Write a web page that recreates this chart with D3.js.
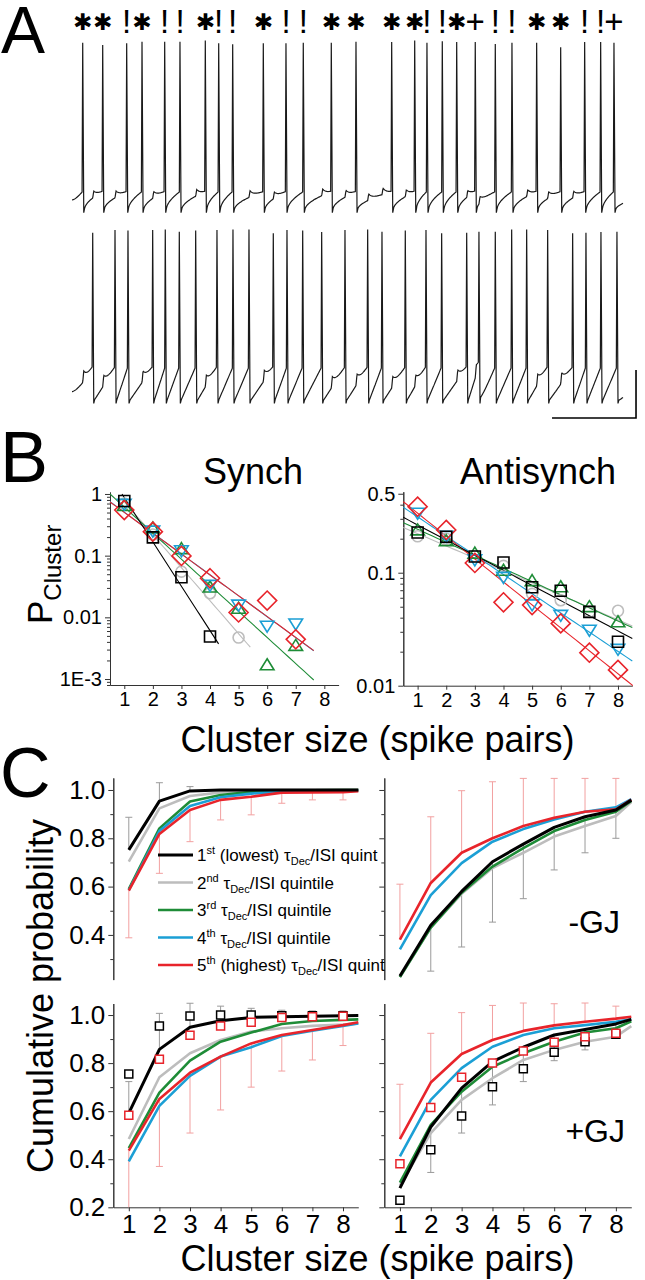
<!DOCTYPE html>
<html><head><meta charset="utf-8">
<script src="https://cdn.jsdelivr.net/npm/d3@7"></script>
<style>
body{margin:0;background:#fff}
svg{display:block}
text{font-family:"Liberation Sans",Arial,Helvetica,sans-serif;white-space:pre}
</style></head>
<body><svg id="fig" width="645" height="1280"></svg>
<script>
// ================= DATA =================
// Panel A: spike times (ms) and peak voltages (mV) of the two coupled cells
const cell1SpikeTimes = [25.5,73.1,130.2,166.7,220.7,257.1,317.4,349.3,382.6,455.5,509.5,550.7,617.4,676.2,761.2,816.0,845.2,881.7,916.0,960.2,1007.9,1047.6,1106.4,1163.6,1220.7,1258.8,1290.5];
const cell1SpikePeaks = [7.6,6.7,7.4,8.0,8.0,8.0,8.5,7.4,7.0,7.4,7.4,7.6,7.6,8.0,7.9,8.5,7.6,8.2,7.9,7.9,7.1,7.6,7.6,5.7,7.9,7.9,7.6];
const cell1SpikeMarks = ["*","*","!","*","!","!","*","!","!","*","!","!","*","*","*","*","!","!","*","+","!","!","*","*","!","!","+"];
const cell2SpikeTimes = [49.3,102.4,133.3,192.1,222.1,255.5,294.5,345.2,383.3,421.4,479.3,511.9,549.3,594.5,650.0,704.0,738.1,793.6,842.9,880.2,939.8,969.0,1007.9,1046.9,1082.6,1132.6,1192.1,1223.8,1259.5,1297.6];
const cell2SpikePeaks = [7.6,8.8,8.5,8.8,9.0,8.0,8.5,8.8,9.0,9.0,7.4,8.8,8.5,7.9,8.8,9.0,8.0,8.5,8.8,7.4,7.6,8.0,8.0,9.0,9.0,8.8,7.4,7.6,7.9,8.0];
// membrane levels (mV): [start, pre-spike, trough, spikelet amplitude]
const cell1Levels = [-57.9,-54.6,-62.0,2.6];
const cell2Levels = [-58.6,-48.8,-62.3,4.2];

// Panel B: cluster probability per quintile (index = cluster size - 1)
const clusterSizes = [1,2,3,4,5,6,7,8];
const synchQ1 = [0.77,0.198,0.0447,0.0049];
const synchQ2 = [0.70,0.22,0.055,0.0246,0.0047];
const synchQ3 = [0.65,0.28,0.13,0.031,0.014,0.0017,0.0035];
const synchQ4 = [0.68,0.25,0.12,0.033,0.0158,0.0072,0.0078];
const synchQ5 = [0.55,0.245,0.099,0.043,0.012,0.0187,0.0044];
const antiQ1 = [0.227,0.208,0.139,0.123,0.0743,0.0693,0.045,0.0245];
const antiQ2 = [0.21,0.20,0.14,0.115,0.065,0.057,0.045,0.046];
const antiQ3 = [0.239,0.192,0.149,0.105,0.085,0.075,0.050,0.0368];
const antiQ4 = [0.336,0.21,0.13,0.091,0.052,0.042,0.031,0.021];
const antiQ5 = [0.384,0.239,0.122,0.0547,0.0517,0.0356,0.0196,0.0138];
// exponential fits: [log10 intercept, log10 slope, first size, last size]
const synchFitQ1 = [0.661,-0.719,0.92,4.3];
const synchFitQ2 = [0.41,-0.535,0.9,5.41];
const synchFitQ3 = [0.2115,-0.423,0.5,7.63];
const synchFitQ4 = [0.0445,-0.339,0.5,7.63];
const synchFitQ5 = [0.04,-0.338,0.5,7.63];
const antiFitQ1 = [-0.443,-0.134,0.5,8.5];
const antiFitQ2 = [-0.545,-0.109,0.5,8.5];
const antiFitQ3 = [-0.499,-0.116,0.5,8.5];
const antiFitQ4 = [-0.336,-0.17,0.5,8.5];
const antiFitQ5 = [-0.27,-0.203,0.5,8.52];
const synchTicks = [1,0.1,0.01,0.001];
const synchTickLabels = ["1","0.1","0.01","1E-3"];
const antiTicks = [0.5,0.1,0.01];
const antiTickLabels = ["0.5","0.1","0.01"];

// Panel C: cumulative probability, sizes 1..8 then 8.5
const cumSizes = [1,2,3,4,5,6,7,8,8.5];
const synNoGJ_Q1 = [0.752,0.954,0.996,1.0,1.0,1.0,1.0,1.0,1.0];
const synNoGJ_Q2 = [0.703,0.924,0.975,0.99,0.997,1.0,1.0,1.0,1.0];
const synNoGJ_Q3 = [0.59,0.841,0.952,0.979,0.992,0.997,0.999,1.0,1.0];
const synNoGJ_Q4 = [0.585,0.83,0.934,0.97,0.985,0.993,0.995,0.997,0.998];
const synNoGJ_Q5 = [0.583,0.818,0.917,0.959,0.972,0.989,0.99,0.991,0.995];
const synNoGJ_errQ1 = [0.135,0.076,0.018,0,0,0,0,0];
const synNoGJ_errQ5 = [0.195,0.163,0.131,0.083,0.075,0.044,0.031,0.032];

const antiNoGJ_Q1 = [0.23,0.44,0.58,0.703,0.776,0.845,0.889,0.917,0.958];
const antiNoGJ_Q2 = [0.225,0.43,0.57,0.677,0.74,0.807,0.851,0.892,0.95];
const antiNoGJ_Q3 = [0.225,0.43,0.575,0.683,0.759,0.83,0.876,0.91,0.955];
const antiNoGJ_Q4 = [0.34,0.565,0.697,0.786,0.838,0.878,0.91,0.928,0.962];
const antiNoGJ_Q5 = [0.38,0.615,0.74,0.80,0.851,0.885,0.91,0.92,0.96];
const antiNoGJ_errQ1 = [0,0.19,0.23,0.25,0.226,0.176,0.149,0.117];
const antiNoGJ_errQ5 = [0.23,0.274,0.257,0.234,0.197,0.163,0.138,0.128];

const synGJ_Q1 = [0.592,0.857,0.949,0.976,0.99,0.993,0.995,0.997,0.998];
const synGJ_Q2 = [0.484,0.741,0.841,0.896,0.931,0.945,0.955,0.96,0.965];
const synGJ_Q3 = [0.446,0.677,0.81,0.889,0.927,0.963,0.975,0.98,0.982];
const synGJ_Q4 = [0.391,0.622,0.747,0.827,0.866,0.913,0.935,0.955,0.965];
const synGJ_Q5 = [0.436,0.651,0.76,0.827,0.882,0.917,0.938,0.958,0.97];
const synGJ_obsQ1 = [0.755,0.954,0.996,1.0,1.0,0.997,0.997,0.997];
const synGJ_obsQ5 = [0.583,0.816,0.916,0.954,0.97,0.99,0.993,0.995];
const synGJ_errQ1 = [0.131,0.15,0.1,0.061,0.038,0.027,0.022,0.02];
const synGJ_errQ5 = [0.26,0.281,0.251,0.222,0.182,0.15,0.125,0.085];

const antiGJ_Q1 = [0.28,0.534,0.696,0.806,0.866,0.917,0.94,0.963,0.982];
const antiGJ_Q2 = [0.29,0.509,0.647,0.737,0.813,0.855,0.889,0.91,0.954];
const antiGJ_Q3 = [0.303,0.543,0.681,0.785,0.841,0.889,0.927,0.945,0.974];
const antiGJ_Q4 = [0.412,0.647,0.779,0.868,0.917,0.945,0.958,0.972,0.982];
const antiGJ_Q5 = [0.484,0.719,0.838,0.896,0.934,0.957,0.972,0.985,0.993];
const antiGJ_obsQ1 = [0.229,0.439,0.58,0.702,0.776,0.845,0.889,0.92];
const antiGJ_obsQ5 = [0.381,0.615,0.741,0.80,0.85,0.887,0.91,0.924];
const antiGJ_errQ1 = [0,0.189,0.187,0.18,0.143,0.107,0.085,0.06];
const antiGJ_errQ5 = [0.228,0.205,0.172,0.144,0.116,0.09,0.078,0.052];

const cumTicksMajor = [0.2,0.4,0.6,0.8,1.0];
const cumTicksMinor = [0.3,0.5,0.7,0.9];
const legendOrdinals = ["1","2","3","4","5"];
const legendSuffixes = ["st","nd","rd","th","th"];
const legendQualifiers = [" (lowest)","","",""," (highest)"];
const legendTails = ["/ISI quint","/ISI quintile","/ISI quintile","/ISI quintile","/ISI quint"];

// ================= DRAWING =================
const COL = ["#000000","#bdbdbd","#1e8c37","#1b9fd5","#e8242b"];
const svg = d3.select("#fig");
const AX = "#333";

// ---------- Panel A ----------
const xA = d3.scaleLinear().domain([0,1312]).range([72,623]);
const yA1 = d3.scaleLinear().domain([-60,10]).range([205,37]);
const yA2 = d3.scaleLinear().domain([-60,10]).range([395,227]);

function tracePoints(own, peaks, other, lv, shape) {
  const [vStart, vThr, vTrough, bumpAmp] = lv;
  const bumps = other.filter(s => !own.some(o => Math.abs(o - s) < 8));
  function ramp(t) {
    const i = d3.bisectRight(own, t);
    if (i === 0) {
      const f = Math.max(0, Math.min(1, t / (own[0] - 1.5)));
      return vStart + (vThr - vStart) * Math.pow(f, 1.5);
    }
    const t0 = own[i-1] + 4;
    const t1 = i < own.length ? own[i] - 1.5 : t0 + 110;
    const f = Math.max(0, Math.min(1, (t - t0) / (t1 - t0)));
    return vTrough + (vThr - vTrough) * Math.pow(f, shape);
  }
  function bump(t) {
    let v = 0;
    for (const s of bumps) {
      const u = t - s;
      if (u < 0 || u > 45) continue;
      v += u < 2.5 ? bumpAmp * u / 2.5 : bumpAmp * Math.exp(-(u - 2.5) / 9);
    }
    return v;
  }
  const pts = [];
  for (let t = 0; t <= 1312; t += 1) {
    if (own.some(s => t > s - 1.6 && t < s + 4)) continue;
    pts.push([t, ramp(t) + bump(t)]);
  }
  own.forEach((s, i) => {
    pts.push([s - 1.5, ramp(s - 1.5) + bump(s - 1.5)]);
    pts.push([s, peaks[i]]);
    pts.push([s + 2.5, vTrough - 1.2]);
  });
  pts.sort((a, b) => a[0] - b[0]);
  return pts;
}
const traceLine1 = d3.line().x(d => xA(d[0])).y(d => yA1(d[1]));
const traceLine2 = d3.line().x(d => xA(d[0])).y(d => yA2(d[1]));
svg.append("path").attr("d", traceLine1(tracePoints(cell1SpikeTimes, cell1SpikePeaks, cell2SpikeTimes, cell1Levels, 0.55)))
  .attr("fill","none").attr("stroke","#1a1a1a").attr("stroke-width",1.2);
svg.append("path").attr("d", traceLine2(tracePoints(cell2SpikeTimes, cell2SpikePeaks, cell1SpikeTimes, cell2Levels, 1.0)))
  .attr("fill","none").attr("stroke","#1a1a1a").attr("stroke-width",1.2);

// spike classification marks
cell1SpikeTimes.forEach((t, i) => {
  const m = cell1SpikeMarks[i];
  if (m === "*") {
    svg.append("text").attr("x", xA(t)).attr("y", 22).attr("text-anchor","middle")
      .attr("dominant-baseline","central").style("font-family","'DejaVu Sans'").style("font-size","23px").text("✱");
  } else {
    svg.append("text").attr("x", xA(t)).attr("y", 33).attr("text-anchor","middle")
      .style("font-size","33px").text(m);
  }
});
// scale bar (200 ms, 20 mV)
svg.append("path").attr("d", `M${xA(1143)},${yA2(-69.6)}H${xA(1343)}V${yA2(-49.6)}`)
  .attr("fill","none").attr("stroke","#000").attr("stroke-width",1.6);

// panel letters
svg.append("text").attr("x",1).attr("y",53).style("font-size","66px").text("A");
svg.append("text").attr("x",0).attr("y",482).style("font-size","72px").text("B");
svg.append("text").attr("x",0).attr("y",797).style("font-size","70px").text("C");

// ---------- Panel B ----------
function markerPath(type, s) {
  if (type === "square") return `M${-s/2},${-s/2}h${s}v${s}h${-s}Z`;
  if (type === "diamond") { const h = s*0.68; return `M0,${-h}L${h},0L0,${h}L${-h},0Z`; }
  if (type === "up") return `M0,${-s*0.55}L${s*0.62},${s*0.45}L${-s*0.62},${s*0.45}Z`;
  if (type === "down") return `M0,${s*0.55}L${s*0.62},${-s*0.45}L${-s*0.62},${-s*0.45}Z`;
  const r = s/2; return `M${r},0A${r},${r} 0 1,1 ${-r},0A${r},${r} 0 1,1 ${r},0Z`;
}
const markerTypes = ["square","circle","up","down","diamond"];

function logPanel(xS, yS, sets, fits, ticks, labels, xAxisY, yAxisX) {
  const g = svg.append("g");
  const minor = [];
  const lo = Math.floor(Math.log10(yS.domain()[0])), hi = Math.ceil(Math.log10(yS.domain()[1]));
  for (let e = lo; e < hi; e++) for (let k = 2; k <= 9; k++) {
    const v = k * Math.pow(10, e);
    if (v >= yS.domain()[0] && v <= yS.domain()[1] && !ticks.some(t => Math.abs(t - v) < 1e-9)) minor.push(v);
  }
  const ga = g.append("g").attr("transform",`translate(${yAxisX},0)`)
    .call(d3.axisLeft(yS).tickValues(ticks).tickFormat((d,i) => labels[i]).tickSize(5).tickSizeOuter(0).tickPadding(3));
  ga.selectAll("text").style("font-size","20px").attr("fill","#000").style("font-family","'Liberation Sans',Arial,sans-serif");
  g.append("g").attr("transform",`translate(${yAxisX},0)`)
    .call(d3.axisLeft(yS).tickValues(minor).tickFormat("").tickSize(3).tickSizeOuter(0));
  const gx = g.append("g").attr("transform",`translate(0,${xAxisY})`)
    .call(d3.axisBottom(xS).tickValues(clusterSizes).tickSize(4).tickSizeOuter(0).tickPadding(3));
  gx.selectAll("text").style("font-size","20px").attr("fill","#000").style("font-family","'Liberation Sans',Arial,sans-serif");
  g.selectAll(".domain, .tick line").attr("stroke",AX);
  // fits
  const order = [1,2,3,4,0];
  order.forEach(q => {
    const f = fits[q];
    const xs = d3.range(f[2], f[3] + 1e-6, (f[3]-f[2])/40);
    const ln = d3.line().x(d => xS(d)).y(d => yS(Math.pow(10, f[0] + f[1]*d)));
    g.append("path").attr("d", ln(xs)).attr("fill","none").attr("stroke",COL[q]).attr("stroke-width",1.1);
  });
  order.forEach(q => {
    g.selectAll(null).data(sets[q]).enter().append("path")
      .attr("transform",(d,i) => `translate(${xS(clusterSizes[i])},${yS(d)})`)
      .attr("d", markerPath(markerTypes[q], q === 4 ? 14 : 11))
      .attr("fill","none").attr("stroke",COL[q]).attr("stroke-width",1.6);
  });
}
const xB1 = d3.scaleLinear().domain([0.5,8.5]).range([110,338.6]);
const yB1 = d3.scaleLog().domain([Math.pow(10,-3.097), Math.pow(10,0.032)]).range([685,492]);
logPanel(xB1, yB1, [synchQ1,synchQ2,synchQ3,synchQ4,synchQ5],
  [synchFitQ1,synchFitQ2,synchFitQ3,synchFitQ4,synchFitQ5], synchTicks, synchTickLabels, 685, 110);
const xB2 = d3.scaleLinear().domain([0.5,8.5]).range([403.3,632.3]);
const yB2 = d3.scaleLog().domain([0.01, Math.pow(10,-0.283)]).range([685.7,491.7]);
logPanel(xB2, yB2, [antiQ1,antiQ2,antiQ3,antiQ4,antiQ5],
  [antiFitQ1,antiFitQ2,antiFitQ3,antiFitQ4,antiFitQ5], antiTicks, antiTickLabels, 685.7, 403.3);

svg.append("text").attr("x",253).attr("y",484).attr("text-anchor","middle").style("font-size","36px").text("Synch");
svg.append("text").attr("x",538).attr("y",484).attr("text-anchor","middle").style("font-size","36px").text("Antisynch");
const pl = svg.append("text").attr("transform","translate(52,624) rotate(-90)");
pl.append("tspan").style("font-size","35px").text("P");
pl.append("tspan").attr("dy",9).style("font-size","24px").text("Cluster");
svg.append("text").attr("x",377.5).attr("y",752).attr("text-anchor","middle").style("font-size","36px").text("Cluster size (spike pairs)");

// ---------- Panel C ----------
function cumPanel(xS, yS, lines, obs, errUp, errDown, axisX, showYLabels, showXAxis, xAxisY) {
  const g = svg.append("g");
  const ga = g.append("g").attr("transform",`translate(${axisX},0)`)
    .call(d3.axisLeft(yS).tickValues(cumTicksMajor.filter(v => v >= yS.domain()[0] - 1e-9))
      .tickFormat(showYLabels ? d3.format(".1f") : "").tickSize(5).tickSizeOuter(0).tickPadding(3));
  ga.selectAll("text").style("font-size","26px").attr("fill","#000").style("font-family","'Liberation Sans',Arial,sans-serif");
  g.append("g").attr("transform",`translate(${axisX},0)`)
    .call(d3.axisLeft(yS).tickValues(cumTicksMinor.filter(v => v >= yS.domain()[0])).tickFormat("").tickSize(3).tickSizeOuter(0));
  if (showXAxis) {
    const gx = g.append("g").attr("transform",`translate(0,${xAxisY})`)
      .call(d3.axisBottom(xS).tickValues(clusterSizes).tickSize(4).tickSizeOuter(0).tickPadding(3));
    gx.selectAll("text").style("font-size","26px").attr("fill","#000").style("font-family","'Liberation Sans',Arial,sans-serif");
  }
  g.selectAll(".domain, .tick line").attr("stroke",AX);
  const yMin = yS.domain()[0];
  function bars(vals, errs, dir, color) {
    errs.forEach((e, i) => {
      if (!e) return;
      const x = xS(clusterSizes[i]);
      let end = vals[i] + dir * e; let clipped = false;
      if (end < yMin) { end = yMin; clipped = true; }
      g.append("line").attr("x1",x).attr("x2",x).attr("y1",yS(vals[i])).attr("y2",yS(end))
        .attr("stroke",color).attr("stroke-width",1);
      if (!clipped) g.append("line").attr("x1",x-3.5).attr("x2",x+3.5).attr("y1",yS(end)).attr("y2",yS(end))
        .attr("stroke",color).attr("stroke-width",1);
    });
  }
  bars(lines[0], errUp[0], errUp[1], "#9a9a9a");
  bars(lines[4], errDown[0], errDown[1], "#f2a0a0");
  const ln = d3.line().x((d,i) => xS(cumSizes[i])).y(d => yS(d));
  [1,2,3,4,0].forEach(q => {
    g.append("path").attr("d", ln(lines[q])).attr("fill","none").attr("stroke",COL[q])
      .attr("stroke-width", q === 0 ? 3 : 2.6).attr("stroke-linejoin","round");
  });
  if (obs) {
    [[obs[0],"#000"],[obs[1],COL[4]]].forEach(([vals,c]) => {
      g.selectAll(null).data(vals).enter().append("path")
        .attr("transform",(d,i) => `translate(${xS(clusterSizes[i])},${yS(d)})`)
        .attr("d", markerPath("square", 8)).attr("fill","#fff").attr("stroke",c).attr("stroke-width",1.5);
    });
  }
}
const xC1 = d3.scaleLinear().domain([0.5,8.5]).range([113.5,358.3]);
const xC2 = d3.scaleLinear().domain([0.5,8.5]).range([384.5,631.3]);
const yCt = d3.scaleLinear().domain([0.215,1.05]).range([979.6,777.9]);
const yCb = d3.scaleLinear().domain([0.2,1.048]).range([1207.3,1003.5]);

cumPanel(xC1, yCt, [synNoGJ_Q1,synNoGJ_Q2,synNoGJ_Q3,synNoGJ_Q4,synNoGJ_Q5], null,
  [synNoGJ_errQ1, 1], [synNoGJ_errQ5, -1], 113.3, true, false);
cumPanel(xC2, yCt, [antiNoGJ_Q1,antiNoGJ_Q2,antiNoGJ_Q3,antiNoGJ_Q4,antiNoGJ_Q5], null,
  [antiNoGJ_errQ1, -1], [antiNoGJ_errQ5, 1], 384.3, false, false);
cumPanel(xC1, yCb, [synGJ_Q1,synGJ_Q2,synGJ_Q3,synGJ_Q4,synGJ_Q5], [synGJ_obsQ1, synGJ_obsQ5],
  [synGJ_errQ1, 1], [synGJ_errQ5, -1], 113.3, true, true, 1207.3);
cumPanel(xC2, yCb, [antiGJ_Q1,antiGJ_Q2,antiGJ_Q3,antiGJ_Q4,antiGJ_Q5], [antiGJ_obsQ1, antiGJ_obsQ5],
  [antiGJ_errQ1, -1], [antiGJ_errQ5, 1], 384.3, false, true, 1207.3);

// legend
const legY = [855, 882.5, 910, 937.5, 965];
legendOrdinals.forEach((o, i) => {
  svg.append("line").attr("x1",158).attr("x2",193).attr("y1",legY[i]).attr("y2",legY[i])
    .attr("stroke",COL[i]).attr("stroke-width", i === 0 ? 3 : 2.6);
  const t = svg.append("text").attr("x",197).attr("y",legY[i]+6).style("font-size","17px");
  t.append("tspan").text(o);
  t.append("tspan").attr("dy",-7).style("font-size","11px").text(legendSuffixes[i]);
  t.append("tspan").attr("dy",7).text(legendQualifiers[i] + " τ");
  t.append("tspan").attr("dy",4).style("font-size","11px").text("Dec");
  t.append("tspan").attr("dy",-4).text(legendTails[i]);
});

svg.append("text").attr("x",620).attr("y",933).attr("text-anchor","end").style("font-size","32px").text("-GJ");
svg.append("text").attr("x",625).attr("y",1142).attr("text-anchor","end").style("font-size","32px").text("+GJ");
svg.append("text").attr("transform","translate(53,996) rotate(-90)").attr("text-anchor","middle")
  .style("font-size","36px").text("Cumulative probability");
svg.append("text").attr("x",377.5).attr("y",1271).attr("text-anchor","middle").style("font-size","36px").text("Cluster size (spike pairs)");
</script></body></html>
